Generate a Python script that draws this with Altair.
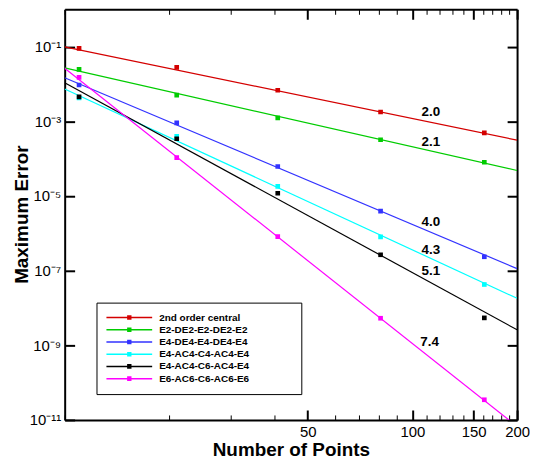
import altair as alt
import pandas as pd

# ---------------- data ----------------
series = ["2nd order central", "E2-DE2-E2-DE2-E2", "E4-DE4-E4-DE4-E4",
          "E4-AC4-C4-AC4-E4", "E4-AC4-C6-AC4-E4", "E6-AC6-C6-AC6-E6"]
colors = ["#d40000", "#00cc00", "#3333ff", "#00ffff", "#000000", "#ff00ff"]

n_points = [11, 21, 41, 81, 161]
err_red = [0.090, 0.0277, 0.00679, 0.00177, 0.00049]
err_green = [0.0245, 0.00501, 0.00123, 0.00032, 7.98e-5]
err_blue = [0.0094, 0.000904, 6.14e-5, 3.92e-6, 2.35e-7]
err_cyan = [0.0042, 0.000398, 1.81e-5, 8.0e-7, 4.25e-8]
err_black = [0.00451, 0.00034, 1.18e-5, 2.66e-7, 5.42e-9]
err_magenta = [0.01503, 0.000106, 8.15e-7, 5.3e-9, 3.47e-11]

fit_n = [10, 200]
fit_red = [0.098, 3.12e-4]
fit_green = [0.027, 4.8e-5]
fit_blue = [0.0147, 1.13e-7]
fit_cyan = [0.00734, 1.81e-8]
fit_black = [0.0108, 2.6e-9]
fit_magenta = [0.0265, 6.7e-12]

slope_labels = ["2.0", "2.1", "4.0", "4.3", "5.1", "7.4"]
slope_label_n = [113, 113, 113, 113, 113, 112]
slope_label_err = [1.73e-3, 2.76e-4, 1.95e-6, 3.61e-7, 9.8e-8, 1.2e-9]

x_tick_values = list(range(10, 201, 10))
x_major = [50, 100, 150, 200]
y_tick_values = [1e-1, 1e-3, 1e-5, 1e-7, 1e-9, 1e-11]
y_tick_labels = ["10⁻¹", "10⁻³", "10⁻⁵", "10⁻⁷", "10⁻⁹", "10⁻¹¹"]

# ---------------- tables ----------------
pts_rows, fit_rows = [], []
for s, errs in zip(series, [err_red, err_green, err_blue, err_cyan, err_black, err_magenta]):
    for n, e in zip(n_points, errs):
        pts_rows.append({"series": s, "N": n, "err": e})
for s, errs in zip(series, [fit_red, fit_green, fit_blue, fit_cyan, fit_black, fit_magenta]):
    for n, e in zip(fit_n, errs):
        fit_rows.append({"series": s, "N": n, "err": e})
pts = pd.DataFrame(pts_rows)
fits = pd.DataFrame(fit_rows)
labels = pd.DataFrame({"N": slope_label_n, "err": slope_label_err, "txt": slope_labels})

FONT = "Liberation Sans"
xscale = alt.Scale(type="log", domain=[10, 200], nice=False)
yscale = alt.Scale(type="log", domain=[1e-11, 1], nice=False)
cscale = alt.Scale(domain=series, range=colors)

is_major = "indexof(" + str(x_major) + ", datum.value) >= 0"
tick_dash = {"condition": {"test": is_major, "value": [10, 0]}, "value": [5, 30]}
tick_width = {"condition": {"test": is_major, "value": 2}, "value": 1}
inward = alt.ExprRef(expr="-10")

common = dict(domainColor="black", domainWidth=2, tickColor="black", grid=False,
              labelFont=FONT, labelFontSize=15, labelColor="black",
              labelFlush=False, labelOverlap=False,
              titleFont=FONT, titleFontSize=19, titleFontWeight="bold", titleColor="black")

x_bottom = alt.Axis(orient="bottom", values=x_tick_values, title="Number of Points",
                    labelExpr=is_major + " ? '' + datum.value : ''",
                    tickSize=inward, tickDash=tick_dash, tickWidth=tick_width,
                    labelPadding=15, titlePadding=1, **common)
x_top = alt.Axis(orient="top", values=x_tick_values, title=None, labels=False,
                 tickSize=inward, tickDash=tick_dash, tickWidth=tick_width, **common)

ylab_arr = "[" + ",".join("'" + t + "'" for t in y_tick_labels) + "]"
y_left = alt.Axis(orient="left", values=y_tick_values, title="Maximum Error",
                  labelExpr=ylab_arr + "[round((-log(datum.value)/LN10 - 1)/2)]",
                  tickSize=inward, tickWidth=2, labelPadding=14,
                  titleX=-33, titleY=206, **common)
y_right = alt.Axis(orient="right", values=y_tick_values, title=None, labels=False,
                   tickSize=inward, tickWidth=2, **common)

legend_path = ("M-11.5,0H11.5M-1.1,-0.8H1.1M-1.1,-0.4H1.1M-1.1,0H1.1"
               "M-1.1,0.4H1.1M-1.1,0.8H1.1")
pad_text = "\u2800" * 6   # blank padding so the legend frame is as wide as the reference

lines = alt.Chart(fits).mark_line(strokeWidth=1.2, clip=True).encode(
    x=alt.X("N:Q", scale=xscale, axis=x_bottom),
    y=alt.Y("err:Q", scale=yscale, axis=y_left),
    color=alt.Color("series:N", scale=cscale, sort=series, legend=alt.Legend(
        orient="none", legendX=32, legendY=295, title=None,
        symbolType=legend_path, symbolSize=16, symbolStrokeWidth=1.5,
        symbolOffset=18, labelOffset=25,
        labelExpr="datum.label + '" + pad_text + "'",
        labelFont=FONT, labelFontSize=10, labelFontWeight="bold", labelColor="black",
        padding=10, rowPadding=2.3, strokeColor="black", fillColor="white")),
    detail="series:N",
)

points = alt.Chart(pts).mark_square(size=22, opacity=1, clip=True).encode(
    x=alt.X("N:Q", scale=xscale, axis=x_top),
    y=alt.Y("err:Q", scale=yscale, axis=y_right),
    color=alt.Color("series:N", scale=cscale, legend=None),
)

texts = alt.Chart(labels).mark_text(font=FONT, fontSize=13.5, fontWeight="bold",
                                    color="black", align="center", baseline="middle").encode(
    x=alt.X("N:Q", scale=xscale, axis=None),
    y=alt.Y("err:Q", scale=yscale, axis=None),
    text="txt:N",
)

chart = alt.layer(lines, points, texts).resolve_axis(
    x="independent", y="independent"
).properties(
    width=455, height=413,
    autosize=alt.AutoSizeParams(type="none"),
    padding={"left": 57, "top": 0, "right": 13, "bottom": 42},
    background="white",
).configure_view(stroke=None)

chart.save("out.html", embed_options={"renderer": "svg", "actions": False})
